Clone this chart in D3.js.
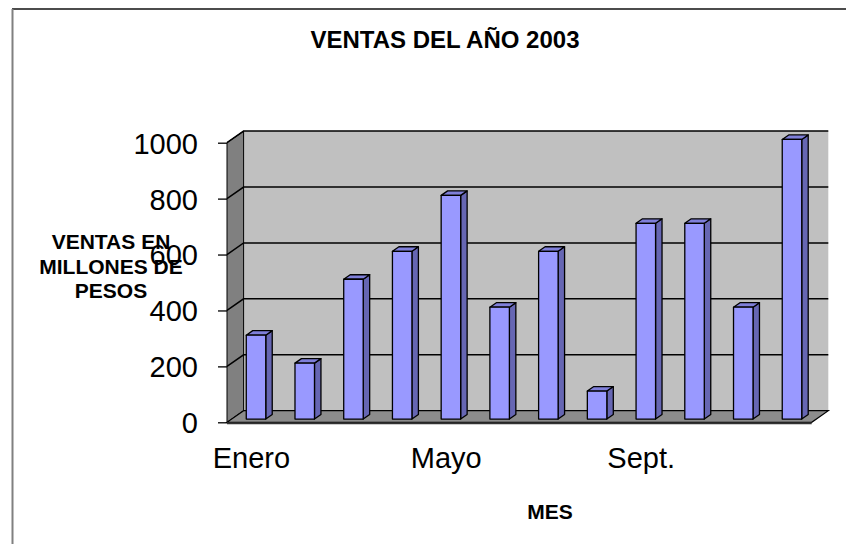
<!DOCTYPE html>
<html>
<head>
<meta charset="utf-8">
<script src="https://cdn.jsdelivr.net/npm/d3@7"></script>
<style>
  body { margin: 0; background: #fff; }
  text { font-family: "Liberation Sans", Arial, sans-serif; }
</style>
</head>
<body>
<script>
// data
var meses = ["Enero", "Feb.", "Marzo", "Abril", "Mayo", "Junio", "Julio", "Agosto", "Sept.", "Oct.", "Nov.", "Dic."];
var ventas = [300, 200, 500, 600, 800, 400, 600, 100, 700, 700, 400, 1000];
var yTicks = [0, 200, 400, 600, 800, 1000];
var titulo = "VENTAS DEL AÑO 2003";
var tituloY = ["VENTAS EN", "MILLONES DE", "PESOS"];
var tituloX = "MES";

var width = 846, height = 544;
var svg = d3.select("body").append("svg").attr("width", width).attr("height", height);

// front plane of the 3d box
var pLeft = 227, pRight = 811.7, pBottom = 422.3, pTop = 142.7;
// depth offset of the back wall
var dx = 16.6, dy = -11.6;
// bars sit between these depths
var z0 = 0.28, z1 = 0.67;

var x = d3.scaleBand().domain(meses).range([pLeft, pRight]).paddingInner(0.6).paddingOuter(0.3);
var y = d3.scaleLinear().domain([0, 1000]).range([pBottom, pTop]);

function pt(px, py, z) { return [px + z * dx, py + z * dy]; }
function poly(points) { return points.map(function(p) { return p.join(","); }).join(" "); }

// outer frame (only top and left are visible)
svg.append("line").attr("x1", 12).attr("x2", width).attr("y1", 9).attr("y2", 9)
  .attr("stroke", "#111").attr("stroke-width", 1.5);
svg.append("line").attr("x1", 12.5).attr("x2", 12.5).attr("y1", 9).attr("y2", height)
  .attr("stroke", "#808080").attr("stroke-width", 2);

// back wall
svg.append("polygon")
  .attr("points", poly([pt(pLeft, pTop, 1), pt(pRight, pTop, 1), pt(pRight, pBottom, 1), pt(pLeft, pBottom, 1)]))
  .attr("fill", "#c0c0c0");

// side wall
svg.append("polygon")
  .attr("points", poly([pt(pLeft, pTop, 0), pt(pLeft, pTop, 1), pt(pLeft, pBottom, 1), pt(pLeft, pBottom, 0)]))
  .attr("fill", "#808080").attr("stroke", "#000").attr("stroke-width", 1);

// gridlines along side wall and back wall
svg.append("g").selectAll("polyline").data(yTicks.slice(1)).enter().append("polyline")
  .attr("points", function(d) { return poly([pt(pLeft, y(d), 0), pt(pLeft, y(d), 1), pt(pRight, y(d), 1)]); })
  .attr("fill", "none").attr("stroke", "#000").attr("stroke-width", 1.5);

// floor
svg.append("polygon")
  .attr("points", poly([pt(pLeft, pBottom, 0), pt(pRight, pBottom, 0), pt(pRight, pBottom, 1), pt(pLeft, pBottom, 1)]))
  .attr("fill", "#8c8c8c").attr("stroke", "#000").attr("stroke-width", 1.2);
svg.append("line").attr("x1", pLeft).attr("x2", pRight).attr("y1", pBottom + 1).attr("y2", pBottom + 1)
  .attr("stroke", "#333").attr("stroke-width", 2);

// bars
var bars = svg.append("g").selectAll("g").data(ventas).enter().append("g");
var bw = x.bandwidth();
bars.append("polygon") // side
  .attr("points", function(d, i) {
    var x1 = x(meses[i]) + bw;
    return poly([pt(x1, y(d), z0), pt(x1, y(d), z1), pt(x1, y(0), z1), pt(x1, y(0), z0)]);
  })
  .attr("fill", "#6666b3").attr("stroke", "#000").attr("stroke-width", 1.3).attr("stroke-linejoin", "round");
bars.append("polygon") // top
  .attr("points", function(d, i) {
    var x0 = x(meses[i]), x1 = x0 + bw;
    return poly([pt(x0, y(d), z0), pt(x1, y(d), z0), pt(x1, y(d), z1), pt(x0, y(d), z1)]);
  })
  .attr("fill", "#7f7fd9").attr("stroke", "#000").attr("stroke-width", 1.3).attr("stroke-linejoin", "round");
bars.append("polygon") // front
  .attr("points", function(d, i) {
    var x0 = x(meses[i]), x1 = x0 + bw;
    return poly([pt(x0, y(d), z0), pt(x1, y(d), z0), pt(x1, y(0), z0), pt(x0, y(0), z0)]);
  })
  .attr("fill", "#9999ff").attr("stroke", "#000").attr("stroke-width", 1.3).attr("stroke-linejoin", "round");

// y axis
var yAxis = d3.axisLeft(y).tickValues(yTicks).tickSize(9).tickPadding(20).tickFormat(d3.format("d"));
var gy = svg.append("g").attr("transform", "translate(" + pLeft + ",0)").call(yAxis);
gy.select(".domain").remove();
gy.selectAll(".tick line").attr("stroke", "#000").attr("stroke-width", 1.3);
gy.selectAll(".tick text").attr("font-size", 29).attr("fill", "#000")
  .attr("font-family", "Liberation Sans, Arial, sans-serif").attr("dy", "0.36em");

// x labels, only every 4th month shown
svg.append("g").selectAll("text").data(meses).enter().append("text")
  .filter(function(d, i) { return i % 4 === 0; })
  .attr("x", function(d) { return x(d) + bw / 2; })
  .attr("y", 468)
  .attr("text-anchor", "middle").attr("font-size", 29)
  .text(function(d) { return d; });

// titles
svg.append("text").attr("x", 445).attr("y", 48).attr("text-anchor", "middle")
  .attr("font-size", 24).attr("font-weight", "bold").text(titulo);

svg.append("g").selectAll("text").data(tituloY).enter().append("text")
  .attr("x", 111).attr("y", function(d, i) { return 249 + i * 24.5; })
  .attr("text-anchor", "middle").attr("font-size", 21).attr("font-weight", "bold")
  .text(function(d) { return d; });

svg.append("text").attr("x", 550).attr("y", 519).attr("text-anchor", "middle")
  .attr("font-size", 21).attr("font-weight", "bold").text(tituloX);
</script>
</body>
</html>
